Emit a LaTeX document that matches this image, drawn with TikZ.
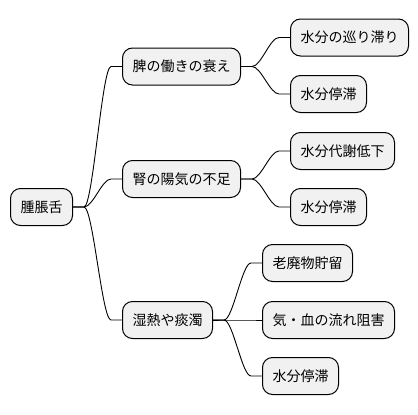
\documentclass[tikz,border=0pt]{standalone}
\usepackage{fontspec}
\setmainfont{Noto Sans CJK JP}
\usetikzlibrary{positioning,calc}

\definecolor{boxgray}{HTML}{F1F1F1}

\newcommand\branch[2]{\draw [link] (#1.east) -- ++(11pt,0)
	to [out=0,in=180,distance=9pt] ($(#2.west)+(-11pt,0)$) -- (#2.west);}

\begin{document}
\begin{tikzpicture}
			[node distance=49pt,
			topic/.style={rectangle,rounded corners=10pt,draw=black,fill=boxgray,line width=1pt,
				minimum height=37pt,inner xsep=10pt,font=\fontsize{14}{16}\selectfont},
			idea/.style={topic},
			link/.style={draw=black,line width=0.9pt}]
			
			\useasboundingbox (0pt,0pt) rectangle (418pt,-415pt);
			
			\node [topic](root) at (10pt,-207pt) [anchor=west]      {腫脹舌};
			
			\node [topic](spleen) [right=of root, yshift=140.5pt]  {脾の働きの衰え};
			\node [topic](kidney) [right=of root, yshift=28pt]     {腎の陽気の不足};
			\node [topic](damp)   [right=of root, yshift=-113pt]   {湿熱や痰濁};
			
				\node [idea](s1) [right=of spleen, yshift=29pt]    {水分の巡り滞り};
				\node [idea](s2) [right=of spleen, yshift=-27.5pt] {水分停滞};
				
				\node [idea](k1) [right=of kidney, yshift=28pt]    {水分代謝低下};
				\node [idea](k2) [right=of kidney, yshift=-28pt]   {水分停滞};
				
				\node [idea](d1) [right=of damp, yshift=57pt]      {老廃物貯留};
				\node [idea](d2) [right=of damp]                   {気・血の流れ阻害};
				\node [idea](d3) [right=of damp, yshift=-56pt]     {水分停滞};
			
			\branch{root}{spleen}
			\branch{root}{kidney}
			\branch{root}{damp}
			
			\branch{spleen}{s1}
			\branch{spleen}{s2}
			\branch{kidney}{k1}
			\branch{kidney}{k2}
			\branch{damp}{d1}
			\branch{damp}{d2}
			\branch{damp}{d3}
			
\end{tikzpicture}
\end{document}
